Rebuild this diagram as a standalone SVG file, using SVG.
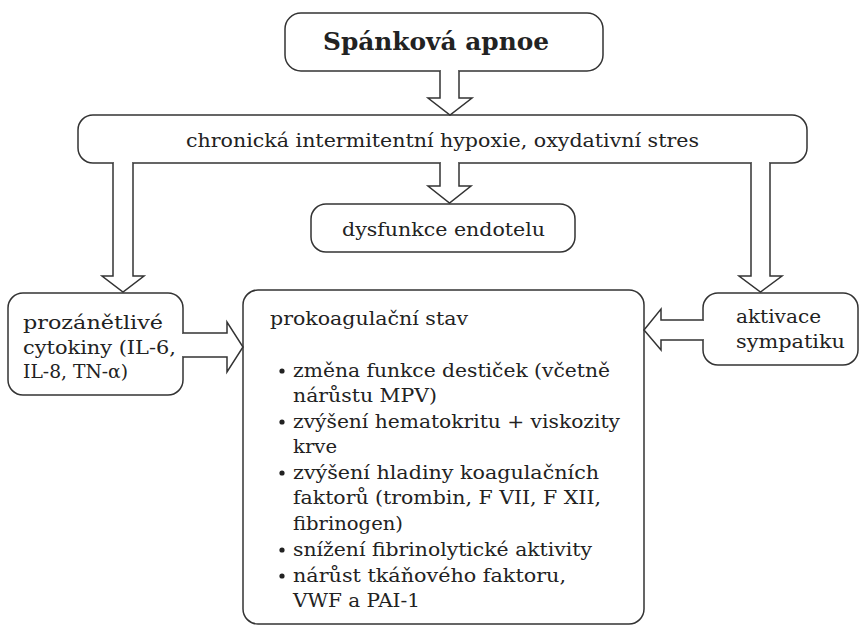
<svg xmlns="http://www.w3.org/2000/svg" width="859" height="626" viewBox="0 0 859 626">
<style>
.box{fill:#fff;stroke:#333;stroke-width:1.5}
.arr{fill:#fff;stroke:#333;stroke-width:1.5;stroke-linejoin:miter}
.cover{fill:#fff;stroke:none}
text{font-family:"DejaVu Serif","Liberation Serif",serif;font-size:19px;fill:#222}
.title{font-size:24px;font-weight:bold}
.c{text-anchor:middle}
</style>
<rect width="859" height="626" fill="#fff"/>
<g id="node-apnoe">
<rect class="box" x="285" y="13" width="318" height="58" rx="16"/>
<text class="title" x="323" y="50" textLength="226" lengthAdjust="spacingAndGlyphs">Spánková apnoe</text>
</g>
<g id="node-hypoxie">
<rect class="box" x="78" y="115" width="729" height="48" rx="15"/>
<text x="186" y="147" textLength="513" lengthAdjust="spacingAndGlyphs">chronická intermitentní hypoxie, oxydativní stres</text>
</g>
<g id="node-endotel">
<rect class="box" x="311" y="204" width="264" height="48" rx="15"/>
<text x="342" y="236" textLength="203" lengthAdjust="spacingAndGlyphs">dysfunkce endotelu</text>
</g>
<g id="node-cytokiny">
<rect class="box" x="8" y="293" width="175" height="102" rx="15"/>
<text x="23" y="329" textLength="140" lengthAdjust="spacingAndGlyphs">prozánětlivé</text>
<text x="23" y="354" textLength="153" lengthAdjust="spacingAndGlyphs">cytokiny (IL-6,</text>
<text x="23" y="378" textLength="105" lengthAdjust="spacingAndGlyphs">IL-8, TN-α)</text>
</g>
<g id="node-sympatikus">
<rect class="box" x="703" y="293" width="155" height="72" rx="15"/>
<text x="736" y="323" textLength="85" lengthAdjust="spacingAndGlyphs">aktivace</text>
<text x="736" y="348" textLength="109" lengthAdjust="spacingAndGlyphs">sympatiku</text>
</g>
<g id="node-prokoag">
<rect class="box" x="243" y="290" width="401" height="334" rx="15"/>
<text x="270" y="325" textLength="198" lengthAdjust="spacingAndGlyphs">prokoagulační stav</text>
<g fill="#222">
<circle cx="282" cy="371" r="2.6"/>
<circle cx="282" cy="422" r="2.6"/>
<circle cx="282" cy="473" r="2.6"/>
<circle cx="282" cy="550" r="2.6"/>
<circle cx="282" cy="576" r="2.6"/>
</g>
<text x="293" y="377" textLength="317" lengthAdjust="spacingAndGlyphs">změna funkce destiček (včetně</text>
<text x="293" y="402" textLength="144" lengthAdjust="spacingAndGlyphs">nárůstu MPV)</text>
<text x="293" y="428" textLength="327" lengthAdjust="spacingAndGlyphs">zvýšení hematokritu + viskozity</text>
<text x="293" y="453" textLength="44" lengthAdjust="spacingAndGlyphs">krve</text>
<text x="293" y="479" textLength="306" lengthAdjust="spacingAndGlyphs">zvýšení hladiny koagulačních</text>
<text x="293" y="504" textLength="308" lengthAdjust="spacingAndGlyphs">faktorů (trombin, F VII, F XII,</text>
<text x="293" y="530" textLength="110" lengthAdjust="spacingAndGlyphs">fibrinogen)</text>
<text x="293" y="556" textLength="299" lengthAdjust="spacingAndGlyphs">snížení fibrinolytické aktivity</text>
<text x="293" y="582" textLength="273" lengthAdjust="spacingAndGlyphs">nárůst tkáňového faktoru,</text>
<text x="293" y="607" textLength="127" lengthAdjust="spacingAndGlyphs">VWF a PAI-1</text>
</g>
<g id="connectors">
<rect class="cover" x="441" y="68" width="17" height="6"/>
<polyline class="arr" points="440,71 440,98 428,98 450,115 472,98 459,98 459,71"/>
<rect class="cover" x="441" y="160" width="17" height="6"/>
<polyline class="arr" points="440,163 440,186 428,186 449.5,203 471,186 459,186 459,163"/>
<rect class="cover" x="114" y="160" width="18" height="6"/>
<polyline class="arr" points="113,163 113,276 102,276 123,292 144,276 133,276 133,163"/>
<rect class="cover" x="752" y="160" width="17" height="6"/>
<polyline class="arr" points="751,163 751,276 739,276 760.5,292 782,276 770,276 770,163"/>
<rect class="cover" x="180" y="334" width="6" height="22"/>
<polyline class="arr" points="183,333 227,333 227,322 243,347 227,372 227,357 183,357"/>
<rect class="cover" x="700" y="321" width="6" height="18"/>
<polyline class="arr" points="703,320 661,320 661,309 644,330 661,350 661,340 703,340"/>
</g>
</svg>
